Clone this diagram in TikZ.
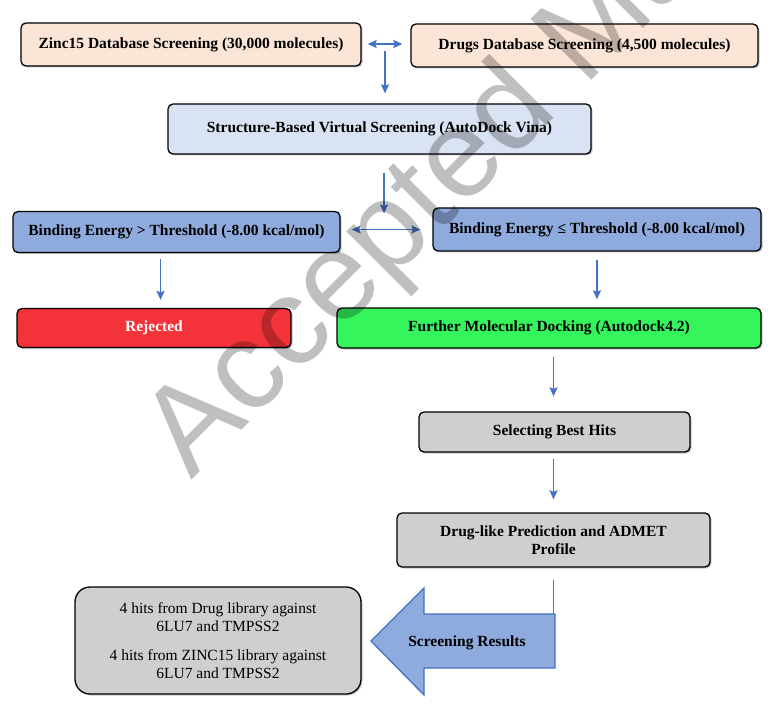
\documentclass[tikz,border=0pt]{standalone}
\usepackage{fontspec}
\setmainfont{LiberationSerif}[Extension=.ttf, UprightFont=*-Regular, BoldFont=*-Bold, ItalicFont=*-Italic, BoldItalicFont=*-BoldItalic]
\newfontfamily\wmfont{Liberation Sans}
\usetikzlibrary{arrows.meta,shadows,calc}
\definecolor{peach}{HTML}{FBE5D6}
\definecolor{paleblue}{HTML}{DAE3F3}
\definecolor{midblue}{HTML}{8FAADC}
\definecolor{redbox}{HTML}{F33339}
\definecolor{greenbox}{HTML}{34F55B}
\definecolor{graybox}{HTML}{D0CECE}
\definecolor{arrowblue}{HTML}{4472C4}
\begin{document}
\begin{tikzpicture}[x=1pt,y=-1pt,
  box/.style={draw=black, line width=1.3pt, rounded corners=5pt, inner sep=0pt,
    align=center, font=\fontsize{15.5}{18}\selectfont\bfseries,
    drop shadow={shadow xshift=1.5pt, shadow yshift=-1.5pt, opacity=0.22, fill=black}},
  arr/.style={draw=arrowblue, line width=1.8pt, -{Stealth[length=9pt,width=8pt,inset=1.5pt]}},
  dblarr/.style={draw=arrowblue, line width=1.8pt,
    {Stealth[length=9pt,width=8pt,inset=1.5pt]}-{Stealth[length=9pt,width=8pt,inset=1.5pt]}},
  bigarrow/.style={draw=arrowblue, fill=midblue, line width=1.3pt},
  lbl/.style={inner sep=0pt, font=\fontsize{15.5}{18}\selectfont\bfseries}
]
\useasboundingbox (0,0) rectangle (773,719);
\fill[white] (0,0) rectangle (773,719);

% boxes
\node[box, fill=peach, minimum width=340pt, minimum height=43pt] (zinc) at (191,44.5)
  {Zinc15 Database Screening (30,000 molecules)};
\node[box, fill=peach, minimum width=347pt, minimum height=43pt] (drugs) at (584.5,45.5)
  {Drugs Database Screening (4,500 molecules)};
\node[box, fill=paleblue, minimum width=423pt, minimum height=50pt] (svs) at (379.5,129)
  {Structure-Based Virtual Screening (AutoDock Vina)};
\node[box, fill=midblue, minimum width=327pt, minimum height=41pt] (bgt) at (176.5,232)
  {Binding Energy > Threshold (-8.00 kcal/mol)};
\node[box, fill=midblue, minimum width=328pt, minimum height=43pt] (ble) at (597,229.5)
  {Binding Energy ≤ Threshold (-8.00 kcal/mol)};
\node[box, fill=redbox, text=white, minimum width=274pt, minimum height=39pt] (rej) at (154,328)
  {Rejected};
\node[box, fill=greenbox, minimum width=424pt, minimum height=40pt] (fmd) at (549,328)
  {Further Molecular Docking (Autodock4.2)};
\node[box, fill=graybox, minimum width=271pt, minimum height=40pt] (sbh) at (554.5,432)
  {Selecting Best Hits};
\node[box, fill=graybox, minimum width=313pt, minimum height=54pt] (dlp) at (553.5,540)
  {Drug-like Prediction and ADMET\\Profile};
\node[box, fill=graybox, rounded corners=15pt, minimum width=286pt, minimum height=107pt,
  font=\fontsize{15.5}{18}\selectfont] (res) at (218,640.5)
  {4 hits from Drug library against\\6LU7 and TMPSS2\\[11pt]4 hits from ZINC15 library against\\6LU7 and TMPSS2};

% big left arrow
\coordinate (tailTR) at (555,614);
\coordinate (tailBR) at (555,668);
\coordinate (headT) at (424,588);
\coordinate (headB) at (424,695);
\coordinate (tip) at (371,641);
\draw[bigarrow] (tailTR) -- (headT |- tailTR) -- (headT) -- (tip) -- (headB) -- (headB |- tailBR) -- (tailBR) -- cycle;
\node[lbl] (sr) at (467,643) {Screening Results};

% connector lines
\coordinate (j1) at (385,44);
\coordinate (j2) at (384,229.5);
\coordinate (xl) at (160.5,0);
\coordinate (xr) at (597,0);
\coordinate (xm) at (553.5,0);

\draw[dblarr] ([xshift=6pt]zinc.east |- j1) -- ([xshift=-8pt]drugs.west |- j1);
\draw[arr, shorten <=7pt, shorten >=10pt] (j1) -- (j1 |- svs.north);
\draw[arr, shorten <=18pt, shorten >=16pt] (svs.south -| j2) -- (j2);
\draw[dblarr] ([xshift=11pt]bgt.east |- j2) -- ([xshift=-12pt]ble.west |- j2);
\draw[arr, shorten <=6pt, shorten >=8pt] (bgt.south -| xl) -- (rej.north -| xl);
\draw[arr, shorten <=8pt, shorten >=8pt] (ble.south -| xr) -- (fmd.north -| xr);
\draw[arr, shorten <=8pt, shorten >=15pt] (fmd.south -| xm) -- (sbh.north -| xm);
\draw[arr, shorten <=6pt, shorten >=13pt] (sbh.south -| xm) -- (dlp.north -| xm);
\draw[draw=arrowblue, line width=1.8pt, shorten <=12pt] (dlp.south -| xm) -- (tailTR -| xm);

% watermark
\begin{scope}
\clip (0,0) rectangle (773,719);
\node[rotate=45, anchor=base west, inner sep=0pt, text=black, text opacity=0.25,
  font=\wmfont\fontsize{125}{125}\selectfont] (wm) at (191,481) {Accepted Manuscript};
\end{scope}
\end{tikzpicture}
\end{document}
